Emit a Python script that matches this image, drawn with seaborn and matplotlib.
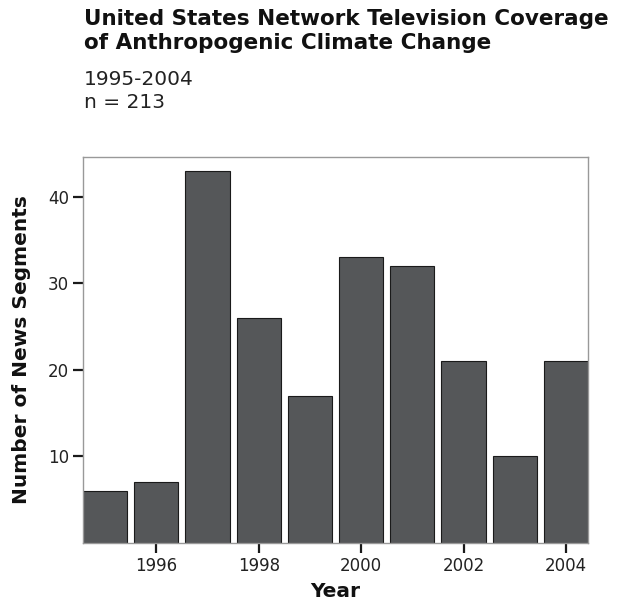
import matplotlib
matplotlib.use("Agg")
import matplotlib.pyplot as plt
import seaborn as sns
import pandas as pd

years = [1995, 1996, 1997, 1998, 1999, 2000, 2001, 2002, 2003, 2004]
segments = [6, 7, 43, 26, 17, 33, 32, 21, 10, 21]
xticks = [1996, 1998, 2000, 2002, 2004]
yticks = [10, 20, 30, 40]

sns.set_theme(style="white")
plt.rcParams['font.family'] = ['DejaVu Sans']

df = pd.DataFrame({"Year": years, "Segments": segments})

fig = plt.figure(figsize=(6.19, 6.03), dpi=100)
ax = fig.add_axes([0.134, 0.0995, 0.816, 0.6405])
sns.barplot(data=df, x="Year", y="Segments", native_scale=True, width=0.863,
            color="#555759", saturation=1, edgecolor="#1a1a1a", linewidth=0.8, ax=ax)
ax.set_xlim(1994.568, 2004.432)
ax.set_ylim(0, 44.6)
ax.set_xticks(xticks)
ax.set_xticklabels([str(t) for t in xticks])
ax.set_yticks(yticks)
ax.tick_params(axis="both", direction="out", length=7, width=1.6, color="#1a1a1a",
               labelsize=12, labelcolor="#222222", bottom=True, left=True)
ax.tick_params(axis="x", pad=3)
ax.tick_params(axis="y", pad=3)
for s in ax.spines.values():
    s.set_color("#999999")
    s.set_linewidth(1.0)
ax.set_xlabel("Year", fontsize=14.5, fontweight="bold", color="#111111", labelpad=5)
ax.set_ylabel("Number of News Segments", fontsize=14.5, fontweight="bold", color="#111111", labelpad=12)

fig.text(84/619, 1-25/603, "United States Network Television Coverage", fontsize=15.5,
         fontweight="bold", va="baseline", ha="left", color="#111111")
fig.text(84/619, 1-49/603, "of Anthropogenic Climate Change", fontsize=15.5,
         fontweight="bold", va="baseline", ha="left", color="#111111")
fig.text(84/619, 1-85/603, "1995-2004", fontsize=14.5, va="baseline", ha="left", color="#222222")
fig.text(84/619, 1-108/603, "n = 213", fontsize=14.5, va="baseline", ha="left", color="#222222")

fig.savefig("out.png", dpi=100)
